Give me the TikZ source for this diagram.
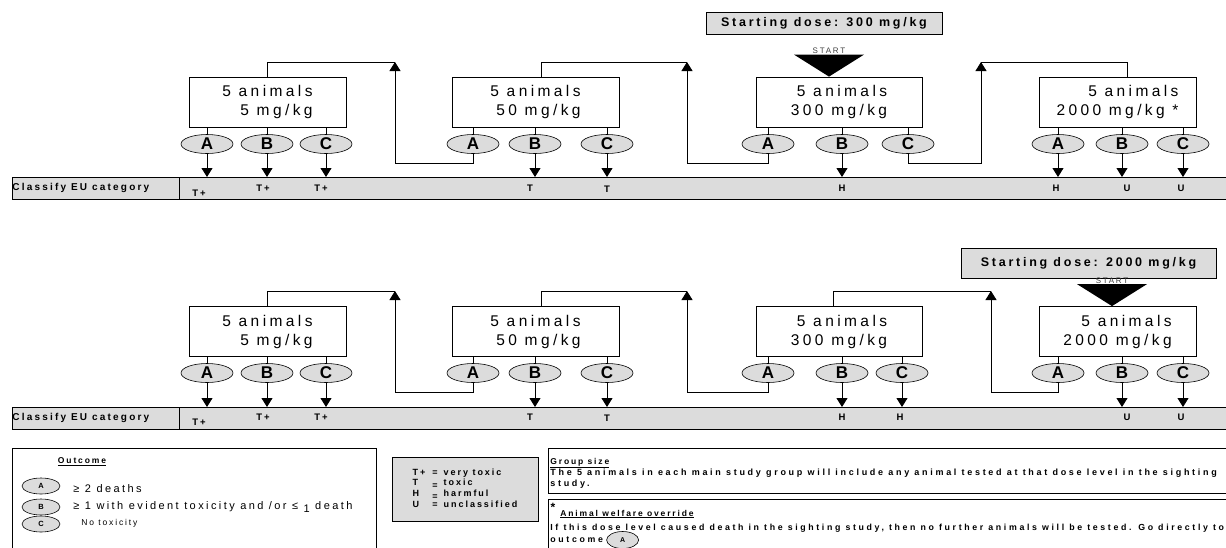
\documentclass[tikz,border=0pt]{standalone}
\usepackage{fontspec}
\setmainfont{Liberation Sans}
\newfontfamily\spaced[LetterSpace=22]{Liberation Sans}
\newfontfamily\wider[LetterSpace=30]{Liberation Sans}
\usepackage{tikz}
\usetikzlibrary{arrows.meta, positioning, shapes.geometric}
\definecolor{panel}{HTML}{DCDCDC}

\begin{document}
\begin{tikzpicture}[
  x=1pt, y=-1pt,
  line width=0.8pt,
  dosebox/.style={rectangle, draw=black, fill=white, minimum height=50pt,
                  align=right, inner sep=0pt, font=\spaced\fontsize{15.5}{19}\selectfont},
  outc/.style={ellipse, draw=black, line width=0.6pt, fill=panel, minimum width=52pt,
               minimum height=19pt, inner sep=0pt, font=\bfseries\fontsize{17}{17}\selectfont},
  legoutc/.style={outc, minimum width=38pt, minimum height=16pt, font=\bfseries\fontsize{7.5}{7.5}\selectfont},
  catcell/.style={rectangle, draw=black, fill=panel, minimum height=22pt, inner sep=0pt, anchor=north west},
  catlab/.style={inner sep=0pt, font=\spaced\bfseries\fontsize{9.5}{9.5}\selectfont},
  startbox/.style={rectangle, draw=black, fill=panel, inner sep=0pt,
                   font=\spaced\bfseries\fontsize{12.5}{12.5}\selectfont},
  starttxt/.style={inner sep=0pt, text=black!75, font=\spaced\fontsize{8}{8}\selectfont},
  flow/.style={-{Triangle[width=11pt,length=9pt]}},
  legframe/.style={rectangle, draw=black, anchor=north west, inner sep=0pt},
  legtxt/.style={anchor=west, inner sep=0pt, align=left}
]
\useasboundingbox (0,0) rectangle (1226,547);
\clip (0,0) rectangle (1226,547);

% ---------- sighting start at 300 mg/kg ----------
\node[dosebox, minimum width=157pt] (b1) at (267.5,102) {5 animals\\5 mg/kg};
\node[dosebox, minimum width=167pt] (b2) at (535.5,102) {5 animals\\50 mg/kg};
\node[dosebox, minimum width=166pt] (b3) at (839,102) {5 animals\\300 mg/kg};
\node[dosebox, minimum width=157pt] (b4) at (1117.5,102) {5 animals\\2000 mg/kg *};

\node[startbox, minimum width=236pt, minimum height=22pt] (sd1) at (824,23) {Starting dose: 300 mg/kg};
\fill ([xshift=-10pt]b3.north) -- ++(-35,-22) -- ++(70,0) -- cycle;
\node[starttxt] (st1) at (829,51) {START};

\node[catcell, minimum width=167pt] (cap1) at (12,177) {};
\node[catcell, minimum width=1060pt] (bar1) at (179,177) {};
\node[legtxt, font=\spaced\bfseries\fontsize{10}{10}\selectfont] (cap1txt) at (12,188) {Classify EU category};

\node[outc] (o1a) at (207,144) {A};
\node[outc] (o1b) at (267,144) {B};
\node[outc] (o1c) at (326,144) {C};
\node[outc] (o2a) at (473,144) {A};
\node[outc] (o2b) at (535,144) {B};
\node[outc] (o2c) at (607,144) {C};
\node[outc] (o3a) at (768,144) {A};
\node[outc] (o3b) at (842,144) {B};
\node[outc] (o3c) at (908,144) {C};
\node[outc] (o4a) at (1058,144) {A};
\node[outc] (o4b) at (1122,144) {B};
\node[outc] (o4c) at (1183,144) {C};

\draw (b1.south -| o1a) -- (o1a.north);
\draw (b1.south -| o1b) -- (o1b.north);
\draw (b1.south -| o1c) -- (o1c.north);
\draw (b2.south -| o2a) -- (o2a.north);
\draw (b2.south -| o2b) -- (o2b.north);
\draw (b2.south -| o2c) -- (o2c.north);
\draw (b3.south -| o3a) -- (o3a.north);
\draw (b3.south -| o3b) -- (o3b.north);
\draw (b3.south -| o3c) -- (o3c.north);
\draw (b4.south -| o4a) -- (o4a.north);
\draw (b4.south -| o4b) -- (o4b.north);
\draw (b4.south -| o4c) -- (o4c.north);

\draw[flow] (o1a.south) -- (o1a.south |- bar1.north);
\draw[flow] (o1b.south) -- (o1b.south |- bar1.north);
\draw[flow] (o1c.south) -- (o1c.south |- bar1.north);
\draw[flow] (o2b.south) -- (o2b.south |- bar1.north);
\draw[flow] (o2c.south) -- (o2c.south |- bar1.north);
\draw[flow] (o3b.south) -- (o3b.south |- bar1.north);
\draw[flow] (o4a.south) -- (o4a.south |- bar1.north);
\draw[flow] (o4b.south) -- (o4b.south |- bar1.north);
\draw[flow] (o4c.south) -- (o4c.south |- bar1.north);

\coordinate (top12) at (395,62);  \coordinate (low12) at (395,163);
\coordinate (top23) at (687,62);  \coordinate (low23) at (687,163);
\coordinate (top43) at (981,62);  \coordinate (low43) at (981,163);
\draw (b1.north) |- (top12);
\draw[flow] (o2a.south) |- (low12) -- (top12);
\draw ([xshift=5.5pt]b2.north) |- (top23);
\draw[flow] (o3a.south) |- (low23) -- (top23);
\draw ([xshift=9.5pt]b4.north) |- (top43);
\draw[flow] (o3c.south) |- (low43) -- (top43);

\node[catlab] (k1) at (199,193) {T+};
\node[catlab] (k2) at (263,188) {T+};
\node[catlab] (k3) at (321,188) {T+};
\node[catlab] (k4) at (530,188) {T};
\node[catlab] (k5) at (607,189) {T};
\node[catlab] (k6) at (842,188) {H};
\node[catlab] (k7) at (1056,188) {H};
\node[catlab] (k8) at (1127,188) {U};
\node[catlab] (k9) at (1181,188) {U};

% ---------- sighting start at 2000 mg/kg ----------
\node[dosebox, minimum width=157pt] (c1) at (267.5,331.5) {5 animals\\5 mg/kg};
\node[dosebox, minimum width=167pt] (c2) at (535.5,331.5) {5 animals\\50 mg/kg};
\node[dosebox, minimum width=166pt] (c3) at (839,331.5) {5 animals\\300 mg/kg};
\node[dosebox, minimum width=157pt] (c4) at (1117.5,331.5) {5 animals\\2000 mg/kg};

\node[startbox, minimum width=255pt, minimum height=30pt] (sd2) at (1088.5,263) {Starting dose: 2000 mg/kg};
\fill ([xshift=-5.5pt]c4.north) -- ++(-35,-22) -- ++(70,0) -- cycle;
\node[starttxt] (st2) at (1112,281) {START};

\node[catcell, minimum width=167pt] (cap2) at (12,407) {};
\node[catcell, minimum width=1060pt] (bar2) at (179,407) {};
\node[legtxt, font=\spaced\bfseries\fontsize{10}{10}\selectfont] (cap2txt) at (12,418) {Classify EU category};

\node[outc] (p1a) at (207,373) {A};
\node[outc] (p1b) at (267,373) {B};
\node[outc] (p1c) at (326,373) {C};
\node[outc] (p2a) at (473,373) {A};
\node[outc] (p2b) at (535,373) {B};
\node[outc] (p2c) at (607,373) {C};
\node[outc] (p3a) at (768,373) {A};
\node[outc] (p3b) at (842,373) {B};
\node[outc] (p3c) at (902,373) {C};
\node[outc] (p4a) at (1058,373) {A};
\node[outc] (p4b) at (1122,373) {B};
\node[outc] (p4c) at (1183,373) {C};

\draw (c1.south -| p1a) -- (p1a.north);
\draw (c1.south -| p1b) -- (p1b.north);
\draw (c1.south -| p1c) -- (p1c.north);
\draw (c2.south -| p2a) -- (p2a.north);
\draw (c2.south -| p2b) -- (p2b.north);
\draw (c2.south -| p2c) -- (p2c.north);
\draw (c3.south -| p3a) -- (p3a.north);
\draw (c3.south -| p3b) -- (p3b.north);
\draw (c3.south -| p3c) -- (p3c.north);
\draw (c4.south -| p4a) -- (p4a.north);
\draw (c4.south -| p4b) -- (p4b.north);
\draw (c4.south -| p4c) -- (p4c.north);

\draw[flow] (p1a.south) -- (p1a.south |- bar2.north);
\draw[flow] (p1b.south) -- (p1b.south |- bar2.north);
\draw[flow] (p1c.south) -- (p1c.south |- bar2.north);
\draw[flow] (p2b.south) -- (p2b.south |- bar2.north);
\draw[flow] (p2c.south) -- (p2c.south |- bar2.north);
\draw[flow] (p3b.south) -- (p3b.south |- bar2.north);
\draw[flow] (p3c.south) -- (p3c.south |- bar2.north);
\draw[flow] (p4b.south) -- (p4b.south |- bar2.north);
\draw[flow] (p4c.south) -- (p4c.south |- bar2.north);

\coordinate (top12b) at (395,291);  \coordinate (low12b) at (395,392);
\coordinate (top23b) at (687,291);  \coordinate (low23b) at (687,392);
\coordinate (top34b) at (991,291);  \coordinate (low34b) at (991,392);
\draw (c1.north) |- (top12b);
\draw[flow] (p2a.south) |- (low12b) -- (top12b);
\draw ([xshift=5.5pt]c2.north) |- (top23b);
\draw[flow] (p3a.south) |- (low23b) -- (top23b);
\draw ([xshift=-6pt]c3.north) |- (top34b);
\draw[flow] (p4a.south) |- (low34b) -- (top34b);

\node[catlab] (m1) at (199,422) {T+};
\node[catlab] (m2) at (263,417) {T+};
\node[catlab] (m3) at (321,417) {T+};
\node[catlab] (m4) at (530,417) {T};
\node[catlab] (m5) at (607,418) {T};
\node[catlab] (m6) at (842,417) {H};
\node[catlab] (m7) at (900,417) {H};
\node[catlab] (m8) at (1127,417) {U};
\node[catlab] (m9) at (1181,417) {U};

% ---------- legend ----------
\node[legframe, minimum width=364pt, minimum height=110pt] (outbox) at (12,448) {};
\node[inner sep=0pt, font=\spaced\bfseries\fontsize{8.5}{8.5}\selectfont] (outhead) at (82,462) {\underline{Outcome}};
\node[legoutc] (la) at (41,486) {A};
\node[legoutc] (lb) at (41,507) {B};
\node[legoutc] (lc) at (41,524) {C};
\node[legtxt, font=\spaced\fontsize{11}{11}\selectfont] (ta) at (73,489) {≥ 2 deaths};
\node[legtxt, font=\spaced\fontsize{11}{11}\selectfont] (tb) at (73,507) {≥ 1 with evident toxicity and /or ≤ \raisebox{-2.5pt}{1} death};
\node[legtxt, font=\spaced\fontsize{8.5}{8.5}\selectfont] (tc) at (81,523) {No toxicity};

\node[rectangle, draw=black, fill=panel, minimum width=146pt, minimum height=64pt, inner sep=0pt,
      font=\spaced\bfseries\fontsize{9}{10.7}\selectfont] (clsbox) at (465,489) {%
  \begin{tabular}{@{}l@{\hspace{7pt}}c@{\hspace{6pt}}l@{}}
    T+ & = & very toxic\\
    T  & \raisebox{-3pt}{=} & toxic\\
    H  & \raisebox{-3pt}{=} & harmful\\
    U  & = & unclassified
  \end{tabular}};

\node[legframe, minimum width=700pt, minimum height=45pt] (grpbox) at (548,448) {};
\node[legtxt, font=\spaced\bfseries\fontsize{8.5}{8.5}\selectfont] (grphead) at (550,463) {\underline{Group size}};
\node[legtxt, anchor=north west, font=\wider\bfseries\fontsize{9}{11}\selectfont] (grptxt) at (550,469) {%
  The 5 animals in each main study group will include any animal tested at that dose level in the sighting\\study.};

\node[legframe, minimum width=700pt, minimum height=60pt] (welbox) at (548,499) {};
\node[inner sep=0pt, font=\bfseries\fontsize{12}{12}\selectfont] (star) at (553,507) {*};
\node[legtxt, font=\spaced\bfseries\fontsize{8.5}{8.5}\selectfont] (welhead) at (560,514) {\underline{Animal welfare override}};
\node[legtxt, font=\wider\bfseries\fontsize{8.8}{8.8}\selectfont] (weltxt) at (550,528) {%
  If this dose level caused death in the sighting study, then no further animals will be tested. Go directly to};
\node[legtxt, font=\wider\bfseries\fontsize{8.8}{8.8}\selectfont] (welout) at (550,540) {outcome};
\node[legoutc, right=3pt of welout, minimum width=32pt, minimum height=17pt, font=\bfseries\fontsize{7}{7}\selectfont] (wela) {A};
\end{tikzpicture}
\end{document}
